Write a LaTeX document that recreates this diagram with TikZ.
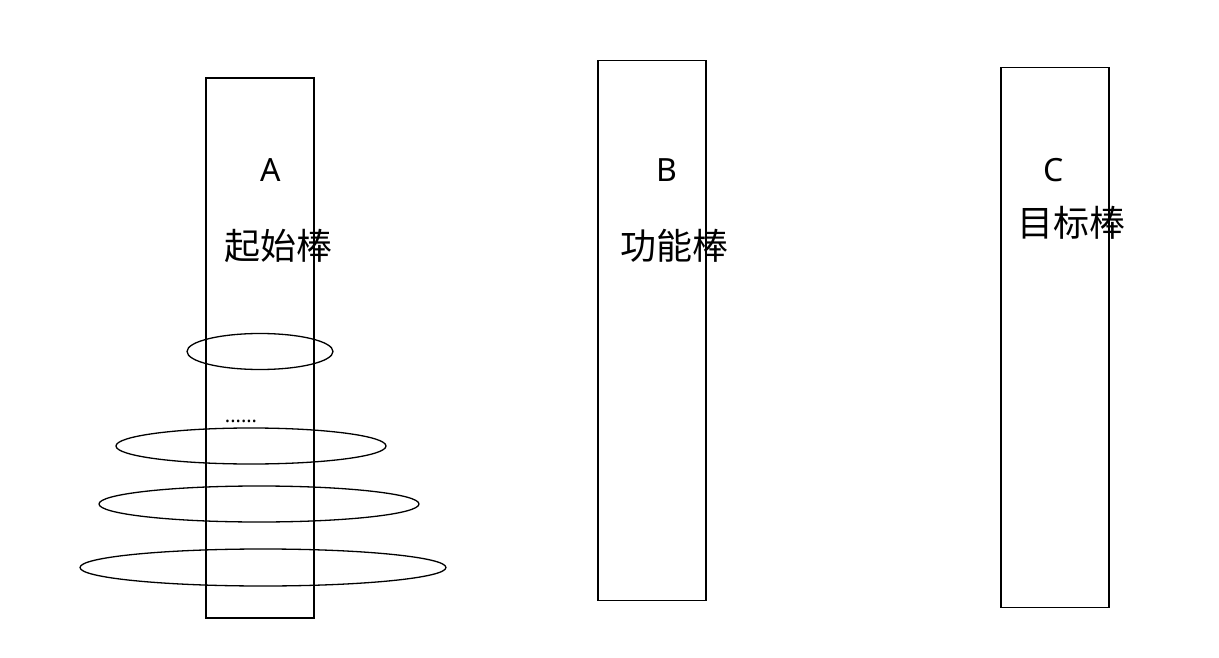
\documentclass[tikz,border=0pt]{standalone}
\usepackage{fontspec}
\setmainfont{Noto Sans}
\newfontfamily\cjk{Noto Sans CJK SC}
\usetikzlibrary{shapes.geometric}

\begin{document}
\begin{tikzpicture}[x=1pt,y=-1pt,line width=1.3pt,
  peg/.style={draw,minimum width=108pt,minimum height=540pt,inner sep=0pt},
  disk/.style={draw,ellipse,inner sep=0pt,minimum height=36pt}]
\path[use as bounding box] (0,0) rectangle (1219,658);
% the three pegs
\node[peg] (pegA) at (260,348) {};
\node[peg] (pegB) at (652,330.5) {};
\node[peg] (pegC) at (1055,337.5) {};
\node[font=\fontsize{32}{36}\selectfont] (nameA) at (271,170) {A};
\node[font=\fontsize{32}{36}\selectfont] (nameB) at (667,170) {B};
\node[font=\fontsize{32}{36}\selectfont] (nameC) at (1054,170) {C};
\node[font=\cjk\fontsize{36}{40}\selectfont] (roleA) at (278,246) {起始棒};
\node[font=\cjk\fontsize{36}{40}\selectfont] (roleB) at (674,246) {功能棒};
\node[font=\cjk\fontsize{36}{40}\selectfont] (roleC) at (1071,223) {目标棒};
% disks on peg A
\node[disk,minimum width=146pt] (disk1) at (260,351.5) {};
\node[font=\fontsize{20}{22}\selectfont] (dots) at (241,421) {......};
\node[disk,minimum width=270pt] (disk2) at (251,446) {};
\node[disk,minimum width=320pt] (disk3) at (259,504) {};
\node[disk,minimum width=366pt,minimum height=37pt] (disk4) at (263,567.5) {};
\end{tikzpicture}
\end{document}
